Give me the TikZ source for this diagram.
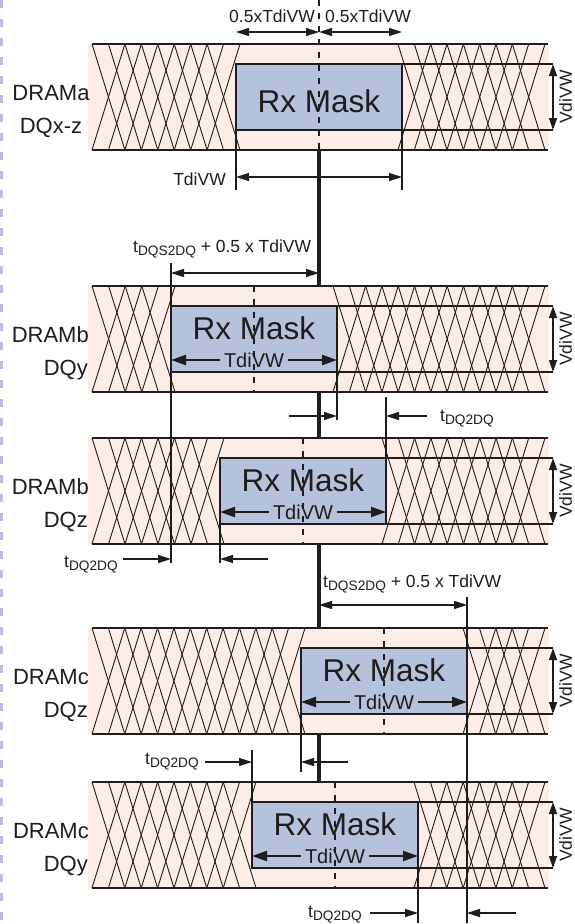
\documentclass[tikz,border=0pt]{standalone}
\usepackage{fontspec}
\setmainfont{Liberation Sans}
\usetikzlibrary{arrows.meta,calc}

\definecolor{BandFill}{RGB}{253,237,230}
\definecolor{MaskFill}{RGB}{181,194,219}
\definecolor{InkColor}{RGB}{30,28,28}
\definecolor{MarginBlue}{RGB}{178,191,224}

% small subscript for the timing names
\newcommand{\dqsub}[1]{\raisebox{-3.5pt}{\fontsize{13.7}{14}\selectfont #1}}

% crossed eye lines between two x positions of one band
\newcommand{\hatchzone}[5]{%
  \pgfmathsetmacro{\hzstep}{((#2)-(#1))/(#3)}%
  \pgfmathtruncatemacro{\hzlast}{(#3)-2}%
  \foreach \k in {0,...,\hzlast}{%
    \draw[hatchline] ({(#1)+\k*\hzstep},{#4}) -- ({(#1)+(\k+2)*\hzstep},{#5});
    \draw[hatchline] ({(#1)+(\k+2)*\hzstep},{#4}) -- ({(#1)+\k*\hzstep},{#5});
  }%
}

\begin{document}
\begin{tikzpicture}[x=1pt,y=-1pt,
    every node/.style={font=\fontsize{17.5}{20}\selectfont,text=InkColor,inner sep=0pt},
    bandline/.style={draw=InkColor,line width=1.8pt},
    hatchline/.style={draw=InkColor,line width=0.9pt},
    innerline/.style={draw=InkColor,line width=1.3pt},
    maskbox/.style={rectangle,fill=MaskFill,draw=InkColor,line width=1.5pt,outer sep=0pt,
                    minimum width=166pt,minimum height=66pt,anchor=north west},
    rxlabel/.style={font=\fontsize{31.5}{34}\selectfont,anchor=base},
    dramlabel/.style={font=\fontsize{22}{24}\selectfont},
    extline/.style={draw=InkColor,line width=1.3pt},
    dqsline/.style={draw=InkColor,line width=3.2pt},
    centerdash/.style={draw=InkColor,line width=1.6pt,dash pattern=on 6pt off 7pt},
    dimarrow/.style={draw=InkColor,line width=1.4pt,>={Triangle[length=13pt,width=8pt]}},
    tdiarrow/.style={draw=InkColor,line width=2.2pt,>={Triangle[length=15pt,width=10pt]},<->},
    vdiarrow/.style={draw=InkColor,line width=1.4pt,>={Triangle[length=12pt,width=8pt]},<->}]

  \useasboundingbox (0,0) rectangle (575,924);
  \draw[MarginBlue,line width=3pt,dash pattern=on 8pt off 11pt] (1.5,0) -- (1.5,924);

  % bands, eye lines and Rx masks
  \foreach \bt/\ml/\nleft/\nright/\row in {44/236/9/9/1,286/171/5/13/2,438/220/8/10/3,
                                           628/301/13/5/4,782/252/10/8/5}{
    \fill[BandFill] (88,\bt) rectangle (549,{\bt+106});
    \hatchzone{92}{\ml+4}{\nleft}{\bt}{\bt+106}
    \hatchzone{\ml+162}{545}{\nright}{\bt}{\bt+106}
    \draw[bandline] (92,\bt) -- (548,\bt) (92,{\bt+106}) -- (548,{\bt+106});
    \node[maskbox] (m\row) at (\ml,{\bt+20}) {};
    \coordinate (vt\row) at (553,{\bt+20});
    \coordinate (vb\row) at (553,{\bt+86});
    \draw[innerline] (m\row.north west) -- (vt\row) (m\row.south west) -- (vb\row);
    \draw[vdiarrow] (vt\row) -- (vb\row)
      node[midway,xshift=12.5pt,rotate=90] (vd\row) {VdiVW};
  }

  \node[rxlabel] (rx1) at ($(m1.north)+(0,48)$) {Rx Mask};
  \foreach \row in {2,...,5}{
    \node[rxlabel] (rx\row) at ($(m\row.north)+(0,33)$) {Rx Mask};
    \draw[tdiarrow] ($(m\row.north west)+(0,54)$) -- ($(m\row.north east)+(0,54)$)
      node[midway,fill=MaskFill,inner xsep=4pt,inner ysep=1pt,
           font=\fontsize{20}{22}\selectfont] (tw\row) {TdiVW};
  }

  % lane names
  \node[dramlabel,anchor=base] (dram1) at (51,100) {DRAMa};
  \node[dramlabel,anchor=base] (dq1) at (51,133) {DQx-z};
  \node[dramlabel,anchor=base east] (dram2) at (89,342) {DRAMb};
  \node[dramlabel,anchor=base east] (dq2) at (88,375) {DQy};
  \node[dramlabel,anchor=base east] (dram3) at (89,494) {DRAMb};
  \node[dramlabel,anchor=base east] (dq3) at (88,527) {DQz};
  \node[dramlabel,anchor=base east] (dram4) at (89,684) {DRAMc};
  \node[dramlabel,anchor=base east] (dq4) at (88,717) {DQz};
  \node[dramlabel,anchor=base east] (dram5) at (89,838) {DRAMc};
  \node[dramlabel,anchor=base east] (dq5) at (88,871) {DQy};

  % DQS reference and free arrow ends
  \coordinate (dqs) at (319,0);
  \coordinate (s2a) at (289,416);
  \coordinate (s2b) at (427,416);
  \coordinate (s3a) at (123,559);
  \coordinate (s3b) at (268,559);
  \coordinate (s4a) at (348,762);
  \coordinate (s4b) at (205,762);
  \coordinate (s5a) at (370,913);
  \coordinate (s5b) at (516,913);

  % DRAMa
  \node[anchor=base east] (half1) at (315,22) {0.5xTdiVW};
  \node[anchor=base west] (half2) at (325,22) {0.5xTdiVW};
  \draw[dimarrow,<->] (m1.west |- 0,32) -- (dqs |- 0,32);
  \draw[dimarrow,<->] (dqs |- 0,32) -- (m1.east |- 0,32);
  \draw[extline] (m1.south west) -- ++(0,60);
  \draw[extline] (m1.south east) -- ++(0,60);
  \draw[dimarrow,<->] (m1.west |- 0,177) -- (m1.east |- 0,177);
  \node[anchor=base east] (tw1) at (226,185) {TdiVW};

  % DRAMb DQy / DQz
  \node[anchor=base west] (skew2) at (133,252) {t\dqsub{DQS2DQ} + 0.5 x TdiVW};
  \draw[extline] (m2.west |- 0,263) -- (m2.west |- 0,563);
  \draw[dimarrow,<->] (m2.west |- 0,273) -- (dqs |- 0,273);
  \draw[extline] (m2.south east) -- ++(0,48);
  \draw[dimarrow,->] (s2a) -- (m2.east |- s2a);
  \draw[extline] (m3.north east) -- ++(0,-61);
  \draw[dimarrow,->] (s2b) -- (m3.east |- s2b);
  \node[anchor=base west] (skewb1) at (440,421) {t\dqsub{DQ2DQ}};
  \draw[extline] (m3.south west) -- (m3.west |- 0,563);
  \draw[dimarrow,->] (s3a) -- (m2.west |- s3a);
  \draw[dimarrow,->] (s3b) -- (m3.west |- s3b);
  \node[anchor=base west] (skewb2) at (64,567) {t\dqsub{DQ2DQ}};

  % DRAMc DQz / DQy
  \node[anchor=base west] (skew4) at (323,587) {t\dqsub{DQS2DQ} + 0.5 x TdiVW};
  \draw[dimarrow,<->] (dqs |- 0,605) -- (m4.east |- 0,605);
  \draw[extline] (m4.east |- 0,597) -- (m4.east |- 0,923);
  \draw[extline] (m4.south west) -- ++(0,58);
  \draw[dimarrow,->] (s4a) -- (m4.west |- s4a);
  \draw[extline] (m5.west |- 0,750) -- (m5.north west);
  \draw[dimarrow,->] (s4b) -- (m5.west |- s4b);
  \node[anchor=base west] (skewc1) at (145,764) {t\dqsub{DQ2DQ}};
  \draw[extline] (m5.south east) -- (m5.east |- 0,923);
  \draw[dimarrow,->] (s5a) -- (m5.east |- s5a);
  \draw[dimarrow,->] (s5b) -- (m4.east |- s5b);
  \node[anchor=base west] (skewc2) at (308,917) {t\dqsub{DQ2DQ}};

  % strobe centre and mask centres
  \draw[dqsline] (dqs |- 0,150) -- (dqs |- 0,286) (dqs |- 0,392) -- (dqs |- 0,438)
                 (dqs |- 0,544) -- (dqs |- 0,628) (dqs |- 0,734) -- (dqs |- 0,782);
  \draw[centerdash] (dqs) -- (dqs |- 0,150);
  \foreach \row in {2,...,5}
    \draw[centerdash] ($(m\row.north)+(0,-20)$) -- ++(0,106);
\end{tikzpicture}
\end{document}
